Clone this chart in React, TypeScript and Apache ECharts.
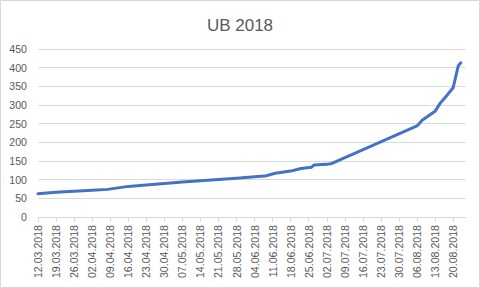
import React, { useEffect, useRef } from "react";
import * as echarts from "echarts";

const title = "UB 2018";

const dates = [
  "12.03.2018", "19.03.2018", "26.03.2018", "02.04.2018", "08.04.2018",
  "16.04.2018", "23.04.2018", "30.04.2018", "07.05.2018", "14.05.2018",
  "21.05.2018", "28.05.2018", "04.06.2018", "08.06.2018", "12.06.2018",
  "18.06.2018", "22.06.2018", "26.06.2018", "27.06.2018", "02.07.2018",
  "04.07.2018", "06.08.2018", "08.08.2018", "13.08.2018", "15.08.2018",
  "17.08.2018", "20.08.2018", "22.08.2018", "23.08.2018",
];

const values = [
  62.5, 66, 69, 71.5, 74,
  82, 86, 90, 93.5, 97,
  100.5, 104, 107.5, 109.5, 117,
  123, 130, 133, 139, 141,
  143.5, 244, 259, 283, 305,
  321, 346, 405, 413,
];

const tickLabels = [
  "12.03.2018", "19.03.2018", "26.03.2018", "02.04.2018", "09.04.2018",
  "16.04.2018", "23.04.2018", "30.04.2018", "07.05.2018", "14.05.2018",
  "21.05.2018", "28.05.2018", "04.06.2018", "11.06.2018", "18.06.2018",
  "25.06.2018", "02.07.2018", "09.07.2018", "16.07.2018", "23.07.2018",
  "30.07.2018", "06.08.2018", "13.08.2018", "20.08.2018",
];

const axisEndDate = "25.08.2018";

const yMin = 0;
const yMax = 450;
const yStep = 50;

const DAY = 86400000;
function toUTC(s: string): number {
  const [d, m, y] = s.split(".").map(Number);
  return Date.UTC(y, m - 1, d);
}
const origin = toUTC(tickLabels[0]);
function dayOf(s: string): number {
  return Math.round((toUTC(s) - origin) / DAY);
}
function labelOf(day: number): string {
  const dt = new Date(origin + day * DAY);
  const dd = String(dt.getUTCDate()).padStart(2, "0");
  const mm = String(dt.getUTCMonth() + 1).padStart(2, "0");
  return `${dd}.${mm}.${dt.getUTCFullYear()}`;
}

export default function App() {
  const ref = useRef<HTMLDivElement>(null);
  useEffect(() => {
    if (!ref.current) return;
    const chart = echarts.init(ref.current, null, { renderer: "svg" });
    const tickDays = tickLabels.map(dayOf);
    const font = "'Liberation Sans', Arial, sans-serif";
    chart.setOption({
      animation: false,
      backgroundColor: "#ffffff",
      title: {
        text: title,
        left: "center",
        top: 12,
        textStyle: {
          color: "#595959",
          fontSize: 17,
          fontWeight: "normal",
          fontFamily: font,
        },
      },
      graphic: [
        {
          type: "rect",
          shape: { x: 0.5, y: 0.5, width: 479, height: 287 },
          style: { fill: "none", stroke: "#d9d9d9", lineWidth: 1 },
          silent: true,
        },
      ],
      grid: { left: 38, right: 14, top: 49, bottom: 71, containLabel: false },
      xAxis: {
        type: "value",
        min: 0,
        max: dayOf(axisEndDate),
        interval: 7,
        axisLine: { show: true, lineStyle: { color: "#d9d9d9", width: 1 } },
        axisTick: {
          show: true,
          length: 5,
          customValues: tickDays,
          lineStyle: { color: "#d9d9d9" },
        },
        splitLine: { show: false },
        axisLabel: {
          customValues: tickDays,
          rotate: 90,
          margin: 8,
          color: "#595959",
          fontSize: 10.6,
          fontFamily: font,
          formatter: (v: number) => labelOf(v),
        },
      },
      yAxis: {
        type: "value",
        min: yMin,
        max: yMax,
        interval: yStep,
        axisLine: { show: false },
        axisTick: { show: false },
        splitLine: { lineStyle: { color: "#d9d9d9", width: 1 } },
        axisLabel: {
          color: "#595959",
          fontSize: 10.6,
          fontFamily: font,
          margin: 11,
        },
      },
      series: [
        {
          type: "line",
          data: dates.map((d, i) => [dayOf(d), values[i]]),
          showSymbol: false,
          symbol: "none",
          lineStyle: { color: "#4472C4", width: 3, cap: "round", join: "round" },
          itemStyle: { color: "#4472C4" },
        },
      ],
    });
    return () => chart.dispose();
  }, []);
  return (
    <div
      ref={ref}
      style={{ position: "fixed", left: 0, top: 0, width: 480, height: 288 }}
    />
  );
}
